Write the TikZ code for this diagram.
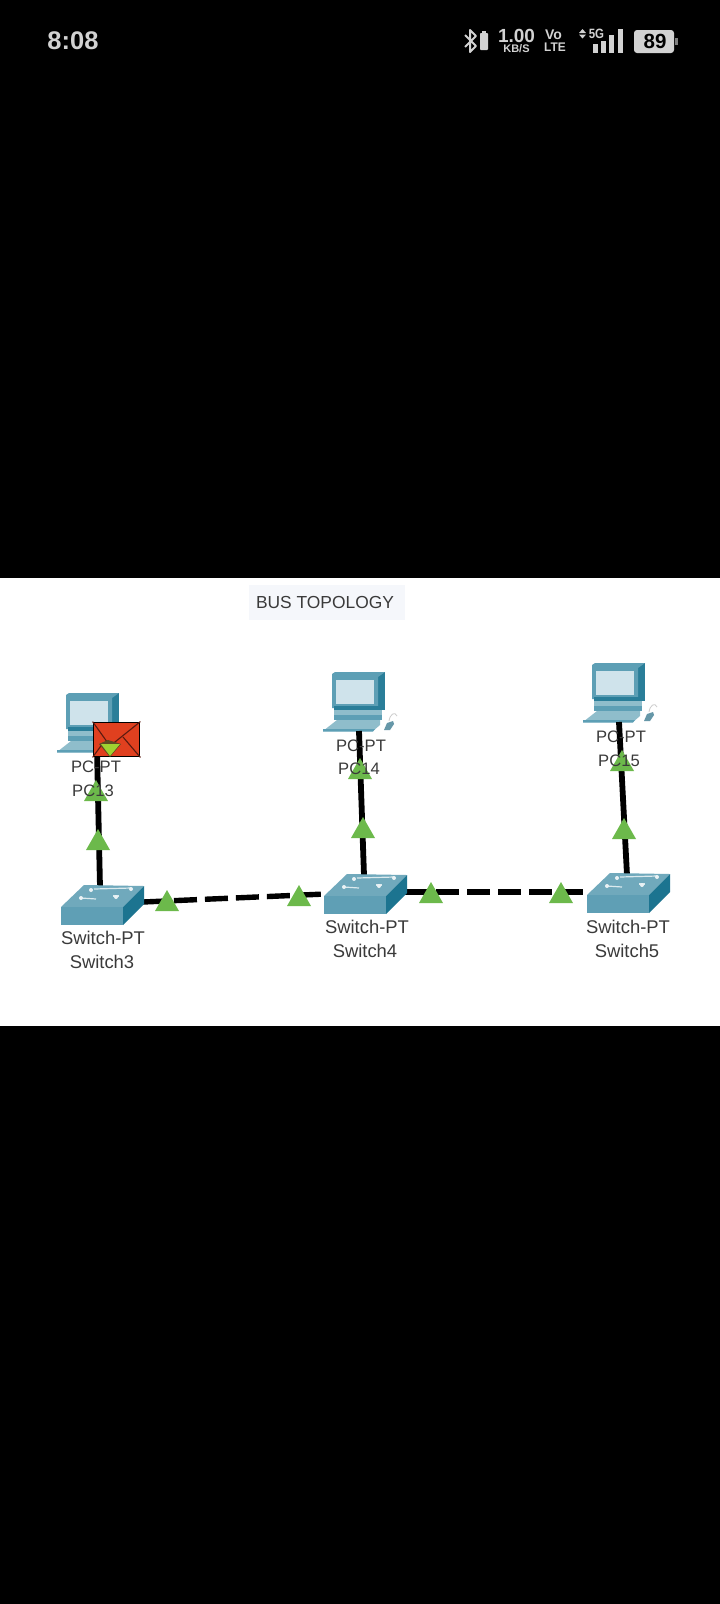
\documentclass[tikz,border=0pt]{standalone}
\usepackage{fontspec}
\usepackage{graphicx}
\setmainfont{Liberation Sans}
\definecolor{status}{HTML}{D2D2D2}
\definecolor{swtop}{HTML}{70A9BC}
\definecolor{swfront}{HTML}{5F9FB5}
\definecolor{swside}{HTML}{1C7490}
\definecolor{pcbody}{HTML}{5D9FB5}
\definecolor{pclite}{HTML}{8FBDCB}
\definecolor{pcdark}{HTML}{2A7E99}
\definecolor{pcscreen}{HTML}{CFE3EB}
\definecolor{pktgreen}{HTML}{6CB94B}
\definecolor{mailred}{HTML}{E0401F}
\definecolor{mailline}{HTML}{5A1A10}
\definecolor{labelink}{HTML}{3A3A3A}
\definecolor{titlebg}{HTML}{F5F7FB}
\tikzset{
  x=1pt,y=-1pt,
  pclabel/.style={inner sep=0pt,text=labelink,font=\fontsize{16.6}{17}\selectfont},
  swlabel/.style={inner sep=0pt,text=labelink,font=\fontsize{18.4}{19}\selectfont},
  statustext/.style={inner sep=0pt,text=status},
  solidlink/.style={line width=5.8pt,black},
  dashlink/.style={line width=5.4pt,black,dash pattern=on 23pt off 8pt},
  pcicon/.pic={
    \fill[pcdark] (46,0) -- (53,0) -- (53,38) -- (46,38) -- cycle;
    \fill[pcbody] (0,2) -- (3,0) -- (53,0) -- (46,5) -- (46,36) -- (0,36) -- cycle;
    \fill[pcscreen] (4,8) rectangle (42,32);
    \fill[pcdark] (2,34) rectangle (50,38);
    \fill[pclite] (2,38) rectangle (50,43);
    \fill[pcbody] (2,43) rectangle (50,48);
    \fill[pclite] (5,48) -- (48,48) -- (48,53) -- (41,59) -- (-9,59) -- cycle;
    \fill[pcbody] (-9,57) -- (43,57) -- (41,59.5) -- (-9,59.5) -- cycle;
  },
  mouseicon/.pic={
    \draw[line width=.8pt,gray!40] (57,49) .. controls (58,42) and (63,39) .. (65,44);
    \fill[pcbody!75!gray] (52,58) -- (55,51) -- (61,49) -- (62,52) -- (58,58) -- cycle;
  },
  switchicon/.pic={
    \fill[swtop] (0,0) -- (23,-22) -- (83,-21) -- (62,0) -- cycle;
    \fill[swfront] (0,0) rectangle (62,18);
    \fill[swside] (62,0) -- (83,-21) -- (83,-3) -- (62,18) -- cycle;
    \draw[white!75!swtop,line width=1.2pt] (20,-9) -- (35,-8);
    \fill[white!85!swtop] (20,-9) circle (2);
    \draw[white!75!swtop,line width=1.2pt] (52,-11) -- (58,-11);
    \fill[white!85!swtop] (55,-10) circle (2);
    \draw[white!75!swtop,line width=1.2pt] (33,-18) -- (70,-19);
    \fill[white!85!swtop] (30,-17) circle (2);
    \fill[white!85!swtop] (70,-18) circle (2);
  },
  pkt/.pic={
    \fill[pktgreen] (0,0) -- (12,21) -- (-12,21) -- cycle;
  },
}
\begin{document}
\begin{tikzpicture}
\useasboundingbox (0,0) rectangle (720,1604);
\fill[black] (0,0) rectangle (720,1604);
\fill[white] (0,578) rectangle (720,1026);

% status bar
\node[statustext,font=\bfseries\fontsize{25.5}{26}\selectfont] (clock) at (73,41) {8:08};
\draw[status,line width=2pt,line join=round] (465,35) -- (476,46) -- (470,52) -- (470,30) -- (476,36) -- (465,47);
\fill[status,rounded corners=.8pt] (480,33) rectangle (488,50);
\fill[status] (482,31) rectangle (486,33);
\node[statustext,font=\bfseries\fontsize{19}{20}\selectfont] (speed) at (516.5,35.5) {1.00};
\node[statustext,font=\bfseries\fontsize{11}{12}\selectfont] (kbs) at (516.5,49) {KB/S};
\node[statustext,font=\bfseries\fontsize{14}{14}\selectfont] (vo) at (553.5,35) {Vo};
\node[statustext,font=\bfseries\fontsize{12.5}{13}\selectfont] (lte) at (555,47.5) {\scalebox{.95}[1]{LTE}};
\fill[status] (582.5,29) -- (586,33) -- (579,33) -- cycle;
\fill[status] (582.5,38.5) -- (586,34.5) -- (579,34.5) -- cycle;
\node[statustext,font=\bfseries\fontsize{13.5}{14}\selectfont] (fiveg) at (596.5,34) {\scalebox{.85}[1]{5G}};
\fill[status] (593,44) rectangle (598,53);
\fill[status] (601,41) rectangle (606,53);
\fill[status] (609,35) rectangle (614,53);
\fill[status] (618,29) rectangle (623,53);
\fill[status,rounded corners=3pt] (634,30) rectangle (674,53);
\fill[status!60!black] (675,38) rectangle (678,45);
\node[inner sep=0pt,text=black,font=\bfseries\fontsize{20.5}{21}\selectfont] (batt) at (655,41.5) {89};

% title
\node[fill=titlebg,minimum width=156pt,minimum height=35pt,inner sep=0pt,text=labelink,font=\fontsize{17.4}{18}\selectfont] (title) at (327,602.5) {\hspace*{-4pt}BUS TOPOLOGY};

% device icons
\pic at (66,693) {pcicon};
\pic at (332,672) {pcicon};
\pic at (332,672) {mouseicon};
\pic at (592,663) {pcicon};
\pic at (592,663) {mouseicon};

% ports
\coordinate (pc13) at (97,750);
\coordinate (pc14) at (359,731);
\coordinate (pc15) at (619,722);
\coordinate (sw3n) at (100,887);
\coordinate (sw4n) at (364,875);
\coordinate (sw5n) at (627,875);
\coordinate (sw3e) at (143,902);
\coordinate (sw4w) at (325,894);
\coordinate (sw4e) at (405,892);
\coordinate (sw5w) at (588,892);

% links
\draw[solidlink] (pc13) -- (sw3n);
\draw[solidlink] (pc14) -- (sw4n);
\draw[solidlink] (pc15) -- (sw5n);
\draw[dashlink] (sw3e) -- (sw4w);
\draw[dashlink] (sw4e) -- (sw5w);

% switches
\pic at (61,907) {switchicon};
\pic at (324,896) {switchicon};
\pic at (587,895) {switchicon};

% packets on links
\pic at (96,780) {pkt};
\pic at (98,829) {pkt};
\pic at (360,758) {pkt};
\pic at (363,817) {pkt};
\pic at (622,750) {pkt};
\pic at (624,818) {pkt};
\pic at (167,890) {pkt};
\pic at (299,885) {pkt};
\pic at (431,882) {pkt};
\pic at (561,882) {pkt};

% envelope
\node[draw=black,line width=1.8pt,fill=mailred,minimum width=46pt,minimum height=34pt,inner sep=0pt] (mail) at (116.5,739.5) {};
\draw[mailline,line width=1.1pt] (mail.north west) -- (110,746) -- (mail.north east);
\draw[mailline,line width=1.1pt] (mail.south west) -- (103,743);
\draw[mailline,line width=1.1pt] (mail.south east) -- (123,737);
\fill[mailline!70!pktgreen] (99,744) -- (108,740) -- (121,744) -- (110,757) -- cycle;
\fill[pktgreen!65!yellow] (101,744) -- (120,744) -- (110,756) -- cycle;

% labels
\node[pclabel] (lpc13a) at (96,767) {PC-PT};
\node[pclabel] (lpc13b) at (93,791) {PC13};
\node[pclabel] (lpc14a) at (361,746) {PC-PT};
\node[pclabel] (lpc14b) at (359,769) {PC14};
\node[pclabel] (lpc15a) at (621,737) {PC-PT};
\node[pclabel] (lpc15b) at (619,761) {PC15};
\node[swlabel] (lsw3a) at (103,938) {Switch-PT};
\node[swlabel] (lsw3b) at (102,962) {Switch3};
\node[swlabel] (lsw4a) at (367,927) {Switch-PT};
\node[swlabel] (lsw4b) at (365,951) {Switch4};
\node[swlabel] (lsw5a) at (628,927) {Switch-PT};
\node[swlabel] (lsw5b) at (627,951) {Switch5};
\end{tikzpicture}
\end{document}
